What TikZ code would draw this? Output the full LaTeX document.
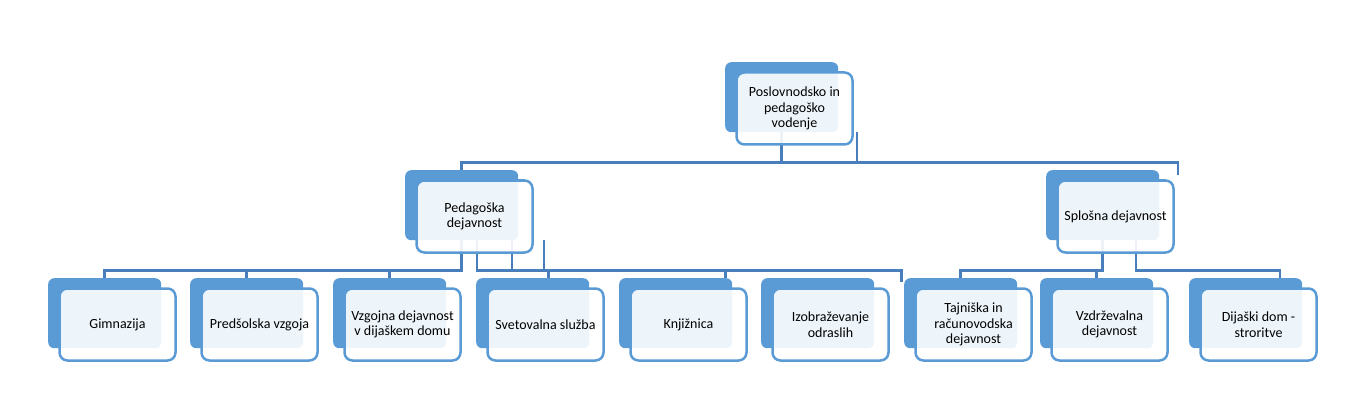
\documentclass[tikz,border=0pt]{standalone}
\usepackage{fontspec}
\setmainfont{Carlito}
\usetikzlibrary{positioning}
\definecolor{chartBlue}{RGB}{91,155,213}
\definecolor{lineBlue}{RGB}{72,126,187}
\pgfdeclarelayer{back}
\pgfdeclarelayer{lines}
\pgfsetlayers{back,lines,main}
\tikzset{
    backbox/.style={anchor=north west, fill=chartBlue, rounded corners=6pt,
        minimum width=113pt, minimum height=70pt, inner sep=0pt},
    frontbox/.style={draw=chartBlue, line width=2.5pt, fill=white, fill opacity=0.9,
        text opacity=1, rounded corners=8pt, minimum width=116pt, minimum height=72pt,
        inner sep=2pt, outer sep=0pt, align=center, font=\fontsize{14}{15.5}\selectfont},
    conn/.style={draw=lineBlue, line width=2.5pt}
}

\begin{document}
\begin{tikzpicture}[x=1pt, y=-1pt]
    \useasboundingbox (0,0) rectangle (1347,409);

    % Draw the solid back boxes
    \begin{pgfonlayer}{back}
        \node[backbox] (posb) at (725,62) {};
        \node[backbox] (pedb) at (405,170) {};
        \node[backbox] (splb) at (1046,170) {};
        \foreach \n/\x in {gim/48, pre/190, vzg/333, sve/476, knj/619, izo/761,
                           taj/904, vzd/1040, dij/1189}
            \node[backbox] (\n b) at (\x,278) {};
    \end{pgfonlayer}

    % Draw the boxes with the texts
    \node[frontbox, below right=10.5pt and 11.5pt of posb.north west] (pos) {Poslovnodsko in\\pedagoško\\vodenje};
    \node[frontbox, below right=10.5pt and 11.5pt of pedb.north west] (ped) {Pedagoška\\dejavnost};
    \node[frontbox, below right=10.5pt and 11.5pt of splb.north west] (spl) {Splošna dejavnost};
    \node[frontbox, below right=10.5pt and 11.5pt of gimb.north west] (gim) {Gimnazija};
    \node[frontbox, below right=10.5pt and 11.5pt of preb.north west] (pre) {Predšolska vzgoja};
    \node[frontbox, below right=10.5pt and 11.5pt of vzgb.north west] (vzg) {Vzgojna dejavnost\\v dijaškem domu};
    \node[frontbox, below right=10.5pt and 11.5pt of sveb.north west] (sve) {Svetovalna služba};
    \node[frontbox, below right=10.5pt and 11.5pt of knjb.north west] (knj) {Knjižnica};
    \node[frontbox, below right=10.5pt and 11.5pt of izob.north west] (izo) {Izobraževanje\\odraslih};
    \node[frontbox, below right=10.5pt and 11.5pt of tajb.north west] (taj) {Tajniška in\\računovodska\\dejavnost};
    \node[frontbox, below right=10.5pt and 11.5pt of vzdb.north west] (vzd) {Vzdrževalna\\dejavnost};
    \node[frontbox, below right=10.5pt and 11.5pt of dijb.north west] (dij) {Dijaški dom -\\stroritve};

    % Draw the connectors
    \begin{pgfonlayer}{lines}
        \draw[conn] (posb.south) -- ++(0,30) -| (pedb.north);
        \draw[conn] (posb.south) -- ++(0,30) -| ([xshift=75.5pt]posb.south);
        \draw[conn] ([xshift=75.5pt]posb.south) -- ++(0,30) -| ([xshift=75.5pt, yshift=-5pt]splb.north);

        \draw[conn] (pedb.south) -- ++(0,30) -| (gimb.north);
        \draw[conn] (pedb.south) -- ++(0,30) -| (preb.north);
        \draw[conn] (pedb.south) -- ++(0,30) -| (vzgb.north);
        \draw[conn] ([xshift=15.5pt]pedb.south) -- ++(0,30) -| ([xshift=16pt]sveb.north);
        \draw[conn] ([xshift=50.5pt]pedb.south) -- ++(0,30) -| ([xshift=50pt]knjb.north);
        \draw[conn] ([xshift=82.5pt]pedb.south) -- ++(0,30) -| ([xshift=84pt, yshift=-4pt]izob.north);

        \draw[conn] (splb.south) -- ++(0,30) -| (tajb.north);
        \draw[conn] (splb.south) -- ++(0,30) -| (vzdb.north);
        \draw[conn] ([xshift=33.5pt]splb.south) -- ++(0,30) -| ([xshift=34.5pt]dijb.north);
    \end{pgfonlayer}
\end{tikzpicture}
\end{document}
